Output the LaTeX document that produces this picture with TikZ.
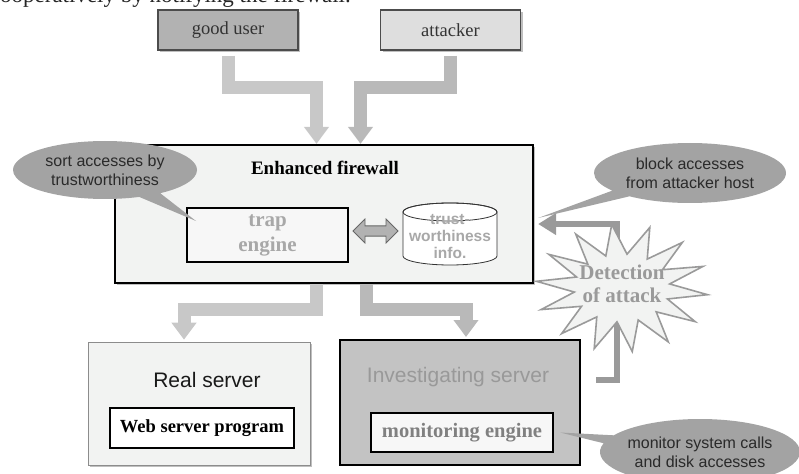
\documentclass[tikz,border=0pt]{standalone}
\usepackage{fontspec}
\setmainfont{Liberation Serif}
\setsansfont{Liberation Sans}
\usetikzlibrary{arrows.meta,shapes.geometric,shapes.arrows,shapes.callouts,shadows,calc}
\definecolor{panel}{HTML}{F2F3F2}
\definecolor{arrowA}{HTML}{C8C8C8}
\definecolor{arrowB}{HTML}{B9B9B9}
\definecolor{fbgray}{HTML}{9A9A9A}
\definecolor{callgray}{HTML}{A3A3A3}
\definecolor{calltext}{HTML}{2A2A2A}
\definecolor{faint}{HTML}{A8A8A8}
\definecolor{invfill}{HTML}{C3C3C3}
\tikzset{
  shade/.style={drop shadow={shadow xshift=2pt,shadow yshift=-2pt,fill=black,opacity=0.25}},
  userbox/.style={draw=black!70,line width=1.2pt,minimum width=140pt,minimum height=40pt,shade,font=\fontsize{18.5}{21}\selectfont,text=black!80},
  innerbox/.style={draw=black,line width=2pt,fill=white},
  fatA/.style={draw=arrowA,line width=13pt,line join=miter,-{Triangle[width=24pt,length=17pt]}},
  fatB/.style={draw=arrowB,line width=13pt,line join=miter,-{Triangle[width=24pt,length=17pt]}},
  fback/.style={draw=fbgray,line width=6pt,line join=miter,-{Triangle[width=21pt,length=18pt]}},
  bubble/.style={ellipse callout,fill=callgray,draw=none,align=center,text=calltext,font=\sffamily\fontsize{16}{19}\selectfont,inner xsep=-12pt,inner ysep=-4pt},
}
\begin{document}
\begin{tikzpicture}[x=1pt,y=-1pt]
\useasboundingbox (0,0) rectangle (799,473);
\clip (0,0) rectangle (799,473);

\node[anchor=base east,font=\fontsize{23}{25}\selectfont,text=black!85,inner sep=0pt] (cap) at (351,2.5) {cooperatively by notifying the firewall.};

% users
\node[userbox,fill=black!30] (gu) at (228,30) {good user};
\node[userbox,fill=black!13] (at) at (450.5,30) {attacker};

% firewall
\node[draw=black,line width=2.2pt,fill=panel,minimum width=418pt,minimum height=138pt,shade] (fw) at (324,214) {};
\node[font=\bfseries\fontsize{19}{22}\selectfont] (fwt) at (325,168) {Enhanced firewall};
\node[innerbox,fill=black!3,minimum width=161pt,minimum height=54pt,align=center,text=faint,font=\bfseries\fontsize{21}{25}\selectfont,inner sep=0pt] (trap) at (267.5,235) {trap\\engine};
\node[double arrow,double arrow head extend=5pt,fill=black!30,draw=black!60,line width=0.8pt,minimum width=24pt,minimum height=45pt] (dbl) at (375.5,231) {};

% cylinder
\draw[fill=white,draw=black!80,line width=0.8pt] (403,212) -- (403,256) arc[start angle=180,end angle=360,x radius=47pt,y radius=9pt] -- (497,212) arc[start angle=0,end angle=180,x radius=47pt,y radius=9pt] -- cycle;
\draw[draw=black!80,line width=0.8pt] (450,212) ellipse[x radius=47pt,y radius=9pt];
\node[align=center,text=faint,font=\sffamily\bfseries\fontsize{15.5}{17}\selectfont] (db) at (450,237) {trust-\\worthiness\\info.};

% arrows in
\coordinate (gbend) at (316.5,87.5);
\coordinate (abend) at (360.5,87.5);
\draw[fatA] ([yshift=-5pt]gu.south) |- (gbend) -- (gbend |- fw.north);
\draw[fatB] ([yshift=-5pt]at.south) |- (abend) -- (abend |- fw.north);

% servers
\node[draw=black!45,line width=0.6pt,fill=panel,minimum width=222pt,minimum height=123pt,shade] (rs) at (199,403.5) {};
\node[font=\sffamily\fontsize{21}{24}\selectfont,text=black!90] (rst) at (207,380) {Real server};
\node[innerbox,minimum width=184pt,minimum height=40pt,font=\bfseries\fontsize{18.5}{21}\selectfont,inner sep=0pt] (web) at (202,428) {Web server program};

\node[draw=black,line width=2pt,fill=invfill,minimum width=240pt,minimum height=125pt] (inv) at (460,402.5) {};
\node[font=\sffamily\fontsize{21}{24}\selectfont,text=black!40] (invt) at (458,377) {Investigating server};
\node[innerbox,fill=black!3,minimum width=182pt,minimum height=39pt,font=\bfseries\fontsize{20.5}{23}\selectfont,text=black!50,inner sep=0pt] (mon) at (462,432.5) {monitoring engine};

% arrows out
\coordinate (lbend) at (184,309);
\coordinate (rbend) at (466,309);
\coordinate (ls) at (316.5,0);
\coordinate (rsx) at (366,0);
\draw[fatA] (ls |- fw.south) |- (lbend) -- ([yshift=2pt]lbend |- rs.north);
\draw[fatB] (rsx |- fw.south) |- (rbend) -- ([yshift=2pt]rbend |- inv.north);

% feedback
\coordinate (fb1) at (617,380);
\coordinate (fb2) at (617,224);
\draw[fback] ([xshift=15pt]inv.east |- fb1) -- (fb1) -- (fb2) -- ([xshift=4pt]fb2 -| fw.east);

% star
\draw[fill=panel,draw=fbgray,line width=1.6pt,line join=miter]
  plot[samples=29,domain=0:28] ({622+(86-38*mod(\x,2))*cos(\x*360/28+6)},{288+(64-30*mod(\x,2))*sin(\x*360/28+6)}) -- cycle;
\node[align=center,text=fbgray,font=\bfseries\fontsize{21}{23}\selectfont] (det) at (622,284) {Detection\\of attack};

% callouts
\node[bubble,minimum width=184pt,minimum height=58pt,callout absolute pointer={([shift={(10pt,-14pt)}]trap.north west)}] (c1) at (105,170) {sort accesses by\\trustworthiness};
\node[bubble,minimum width=192pt,minimum height=60pt,callout absolute pointer={([xshift=4pt]fw.east |- 0,218)}] (c2) at (690,173) {block accesses\\from attacker host};
\node[bubble,minimum width=200pt,minimum height=66pt,callout absolute pointer={([xshift=6pt]mon.east)}] (c3) at (700,452) {monitor system calls\\and disk accesses};
\end{tikzpicture}
\end{document}
